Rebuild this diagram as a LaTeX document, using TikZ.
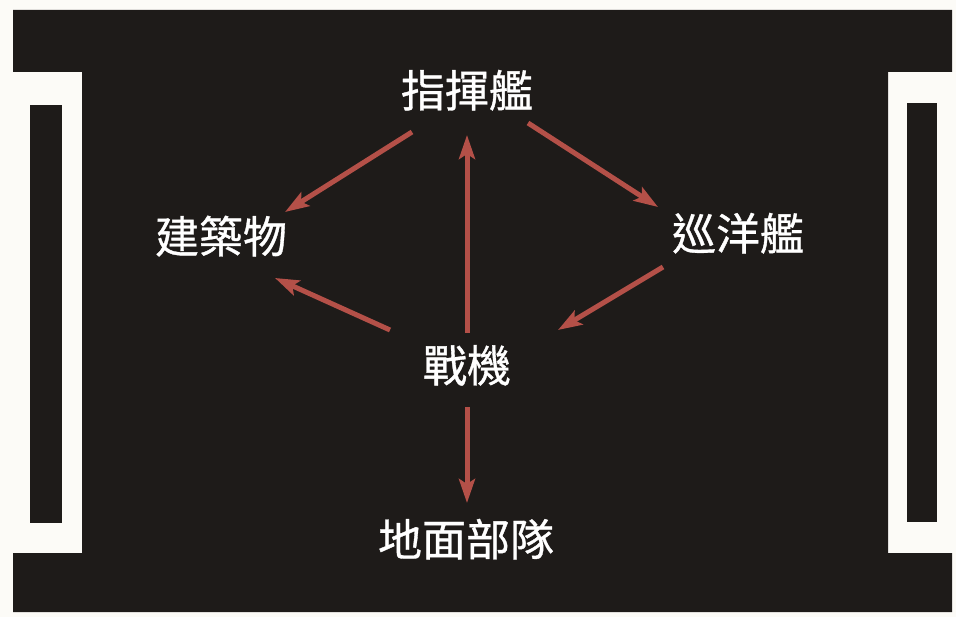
\documentclass[tikz,border=0pt]{standalone}
\usepackage{fontspec}
\newfontfamily\cjk[FakeBold=0.8]{Noto Sans CJK TC}
\usetikzlibrary{arrows.meta}
\definecolor{ink}{RGB}{30,27,25}
\definecolor{paper}{RGB}{252,251,247}
\definecolor{arrred}{RGB}{180,80,72}
\begin{document}
\begin{tikzpicture}[x=1pt,y=-1pt,
  lbl/.style={text=white,inner sep=0pt,font=\cjk\fontsize{44}{48}\selectfont,text height=37pt,text depth=7pt},
  arr/.style={draw=arrred,line width=5pt,-{Stealth[length=24pt,width=16pt,inset=5pt]}}]
\useasboundingbox (0,0) rectangle (956,617);
\fill[paper] (0,0) rectangle (956,617);
% frame
\fill[ink] (13,10) -- (952,10) -- (952,72) -- (888,72) -- (888,553) -- (952,553)
  -- (952,612) -- (13,612) -- (13,553) -- (82,553) -- (82,72) -- (13,72) -- cycle;
\fill[ink] (30,105) rectangle (62,523);
\fill[ink] (907,103) rectangle (937,522);
% labels
\node[lbl] (cmd) at (467,92) {指揮艦};
\node[lbl] (bld) at (221,238) {建築物};
\node[lbl] (cru) at (738,235) {巡洋艦};
\node[lbl] (ftr) at (467,367) {戰機};
\node[lbl] (gnd) at (466,541) {地面部隊};
% arrows
\draw[arr] ([shift={(-55,40)}]cmd.center) -- ([shift={(64,-26)}]bld.center);
\draw[arr] ([shift={(0,-34)}]ftr.center) -- ([shift={(0,43)}]cmd.center);
\draw[arr] ([shift={(61,31)}]cmd.center) -- ([shift={(-80,-28)}]cru.center);
\draw[arr] ([shift={(-75,32)}]cru.center) -- ([shift={(91,-37)}]ftr.center);
\draw[arr] ([shift={(-77,-37)}]ftr.center) -- ([shift={(54,40)}]bld.center);
\draw[arr] ([shift={(0,40)}]ftr.center) -- ([shift={(1,-38)}]gnd.center);
\end{tikzpicture}
\end{document}
